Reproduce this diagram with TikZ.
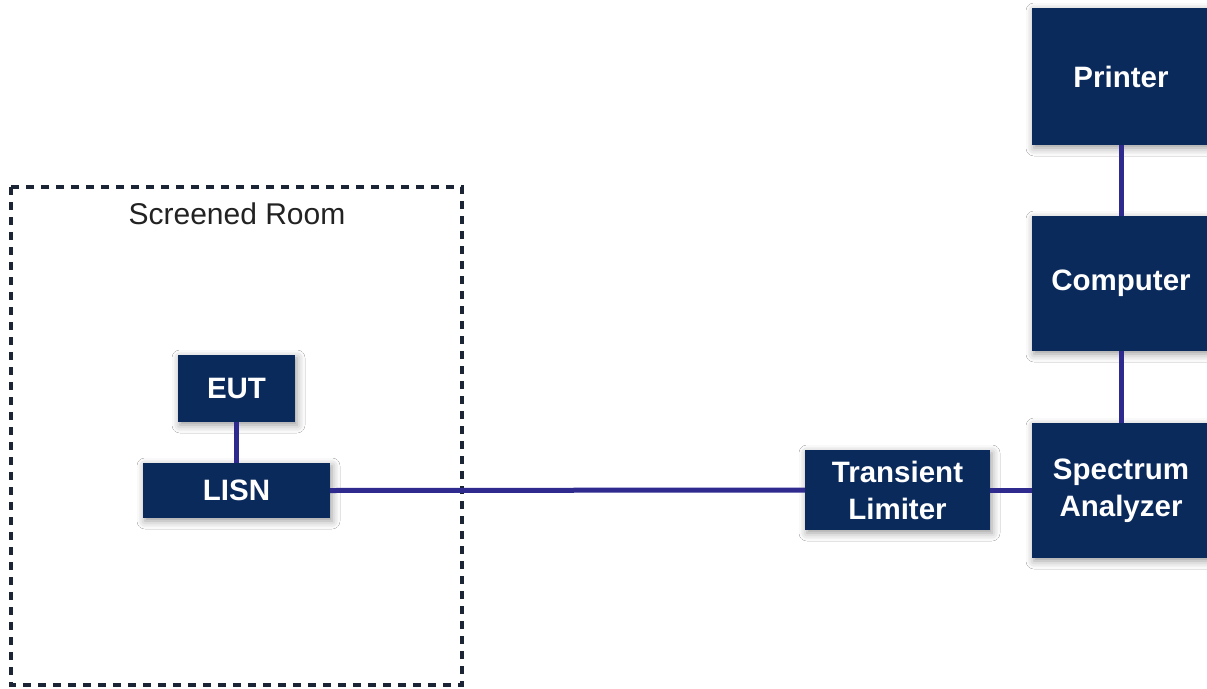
\documentclass[tikz,border=0pt]{standalone}
\usepackage{fontspec}
\setmainfont{Liberation Sans}
\usetikzlibrary{shadows.blur}
\definecolor{boxnavy}{HTML}{0A2A5C}
\definecolor{wireblue}{HTML}{2E2A8E}
\definecolor{roomgray}{HTML}{1C2535}
\definecolor{titlegray}{HTML}{222222}
\tikzset{
  unitbox/.style={rectangle, fill=boxnavy, text=white, inner sep=0pt, align=center,
    font=\bfseries\fontsize{29.5}{37}\selectfont,
    blur shadow={shadow xshift=2pt, shadow yshift=-3pt, shadow blur radius=8pt, shadow opacity=40}},
  wire/.style={draw=wireblue, line width=5pt},
  roomline/.style={draw=roomgray, line width=3.5pt, dash pattern=on 8pt off 7pt}
}
\begin{document}
\begin{tikzpicture}[x=1pt,y=-1pt]
\useasboundingbox (0,0) rectangle (1207,688);
\fill[white] (0,0) rectangle (1207,688);
\draw[roomline] (11,187) rectangle (462,685);
\node[text=titlegray, font=\fontsize{30}{36}\selectfont] (title) at (237,214) {Screened Room};
\node[unitbox, minimum width=117pt, minimum height=67pt] (eut) at (236.5,388.5) {EUT};
\node[unitbox, minimum width=187pt, minimum height=55pt] (lisn) at (236.5,490.5) {LISN};
\node[unitbox, minimum width=185pt, minimum height=80pt] (lim) at (897.5,490) {Transient\\Limiter};
\node[unitbox, minimum width=178pt, minimum height=137pt] (printer) at (1121,76.5) {Printer};
\node[unitbox, minimum width=178pt, minimum height=135pt] (comp) at (1121,283.5) {Computer};
\node[unitbox, minimum width=178pt, minimum height=135pt] (sa) at (1121,490.5) {Spectrum\\Analyzer};
\draw[wire] (eut.south) -- (lisn.north);
\draw[wire] (lisn.east) -- (lim.west);
\draw[wire] (lim.east) -- (lim.east -| sa.west);
\draw[wire] (printer.south) -- (comp.north);
\draw[wire] (comp.south) -- (sa.north);
\end{tikzpicture}
\end{document}
